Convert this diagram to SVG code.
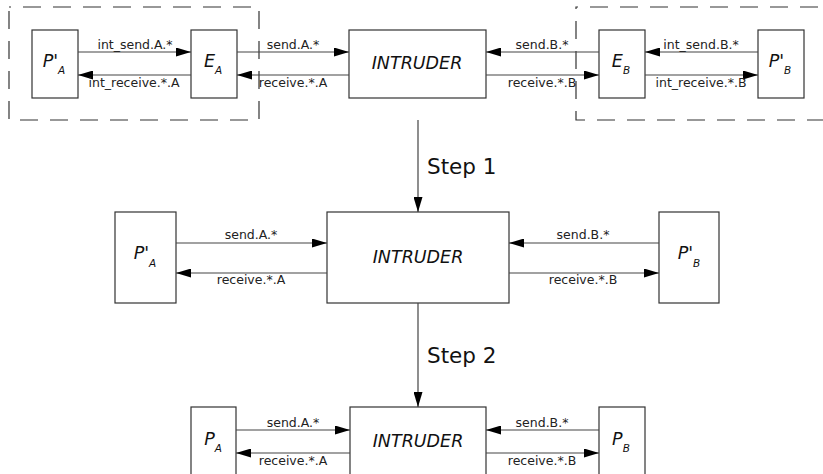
<svg xmlns="http://www.w3.org/2000/svg" width="823" height="474" viewBox="0 0 823 474">
<style>
.box{fill:#fff;stroke:#333;stroke-width:1.2}
.dash{fill:none;stroke:#333;stroke-width:1.2;stroke-dasharray:18 12}
.c{fill:none;stroke:#444;stroke-width:1.2;marker-end:url(#ah)}
.lbl{font-family:"DejaVu Sans",Verdana,sans-serif;font-size:12.5px;fill:#222;text-anchor:middle}
.name{font-family:"DejaVu Sans",Verdana,sans-serif;font-size:17.5px;font-style:italic;fill:#111;text-anchor:middle}
.sub{font-size:10.5px}
.step{font-family:"DejaVu Sans",Verdana,sans-serif;font-size:21.5px;fill:#111}
</style>
<defs>
<marker id="ah" markerUnits="userSpaceOnUse" markerWidth="15" markerHeight="9" refX="15" refY="4.5" orient="auto">
<path d="M0,0 L15,4.5 L0,9 z" fill="#000"/>
</marker>
</defs>
<rect width="823" height="474" fill="#fff"/>

<g id="groupA"><rect class="dash" x="9" y="7" width="250" height="113" stroke-dashoffset="-14"/></g>
<g id="groupB"><rect class="dash" x="576" y="7" width="270" height="113" stroke-dashoffset="-14"/></g>

<!-- top row -->
<g id="PpA1"><rect class="box" x="32" y="30" width="46" height="68"/><text class="name" x="54" y="67">P'<tspan class="sub" dy="7">A</tspan></text></g>
<g id="EA"><rect class="box" x="191" y="30" width="46" height="68"/><text class="name" x="213" y="67">E<tspan class="sub" dy="7">A</tspan></text></g>
<g id="INT1"><rect class="box" x="349" y="30" width="137" height="68"/><text class="name" x="417" y="69">INTRUDER</text></g>
<g id="EB"><rect class="box" x="599" y="30" width="46" height="68"/><text class="name" x="621" y="67">E<tspan class="sub" dy="7">B</tspan></text></g>
<g id="PpB1"><rect class="box" x="758" y="30" width="46" height="68"/><text class="name" x="780" y="67">P'<tspan class="sub" dy="7">B</tspan></text></g>

<!-- middle row -->
<g id="PpA2"><rect class="box" x="115" y="212" width="61" height="91"/><text class="name" x="145" y="259">P'<tspan class="sub" dy="8">A</tspan></text></g>
<g id="INT2"><rect class="box" x="327" y="212" width="182" height="91"/><text class="name" x="418" y="263">INTRUDER</text></g>
<g id="PpB2"><rect class="box" x="659" y="212" width="60" height="91"/><text class="name" x="689" y="259">P'<tspan class="sub" dy="8">B</tspan></text></g>

<!-- bottom row -->
<g id="PA"><rect class="box" x="191" y="407" width="45" height="80"/><text class="name" x="213" y="445">P<tspan class="sub" dy="7">A</tspan></text></g>
<g id="INT3"><rect class="box" x="350" y="407" width="136" height="80"/><text class="name" x="418" y="447">INTRUDER</text></g>
<g id="PB"><rect class="box" x="599" y="407" width="46" height="80"/><text class="name" x="621" y="445">P<tspan class="sub" dy="7">B</tspan></text></g>

<g id="connectors">
<!-- top -->
<line class="c" x1="78" y1="52" x2="191" y2="52"/>
<line class="c" x1="191" y1="75" x2="78" y2="75"/>
<line class="c" x1="237" y1="52" x2="349" y2="52"/>
<line class="c" x1="349" y1="75" x2="237" y2="75"/>
<line class="c" x1="599" y1="52" x2="486" y2="52"/>
<line class="c" x1="486" y1="75" x2="599" y2="75"/>
<line class="c" x1="758" y1="52" x2="645" y2="52"/>
<line class="c" x1="645" y1="75" x2="758" y2="75"/>
<!-- steps -->
<line class="c" x1="418" y1="120" x2="418" y2="212"/>
<line class="c" x1="418" y1="303" x2="418" y2="407"/>
<!-- middle -->
<line class="c" x1="176" y1="243" x2="327" y2="243"/>
<line class="c" x1="327" y1="273" x2="176" y2="273"/>
<line class="c" x1="659" y1="243" x2="509" y2="243"/>
<line class="c" x1="509" y1="273" x2="659" y2="273"/>
<!-- bottom -->
<line class="c" x1="236" y1="430" x2="350" y2="430"/>
<line class="c" x1="350" y1="453" x2="236" y2="453"/>
<line class="c" x1="599" y1="430" x2="486" y2="430"/>
<line class="c" x1="486" y1="453" x2="599" y2="453"/>
</g>

<g id="labels">
<text class="lbl" x="135" y="49">int_send.A.*</text>
<text class="lbl" x="134" y="87">int_receive.*.A</text>
<text class="lbl" x="293" y="49">send.A.*</text>
<text class="lbl" x="293" y="87">receive.*.A</text>
<text class="lbl" x="542" y="49">send.B.*</text>
<text class="lbl" x="542" y="87">receive.*.B</text>
<text class="lbl" x="701" y="49">int_send.B.*</text>
<text class="lbl" x="701" y="87">int_receive.*.B</text>
<text class="step" x="427" y="174">Step 1</text>
<text class="step" x="427" y="363">Step 2</text>
<text class="lbl" x="251" y="239">send.A.*</text>
<text class="lbl" x="251" y="284">receive.*.A</text>
<text class="lbl" x="583" y="239">send.B.*</text>
<text class="lbl" x="583" y="284">receive.*.B</text>
<text class="lbl" x="293" y="427">send.A.*</text>
<text class="lbl" x="293" y="465">receive.*.A</text>
<text class="lbl" x="542" y="427">send.B.*</text>
<text class="lbl" x="542" y="465">receive.*.B</text>
</g>
</svg>
